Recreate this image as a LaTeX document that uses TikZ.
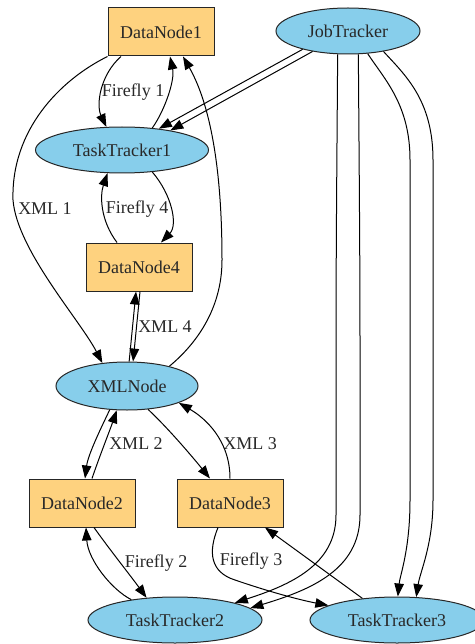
\documentclass[tikz,border=0pt]{standalone}
\usepackage{fontspec}
\setmainfont{Liberation Serif}
\usetikzlibrary{shapes.geometric,arrows.meta,calc}
\definecolor{boxfill}{RGB}{254,210,127}
\definecolor{ellfill}{RGB}{135,206,235}
\definecolor{txt}{RGB}{40,40,40}
\begin{document}
\begin{tikzpicture}[x=1pt,y=-1pt,
 every node/.style={font=\fontsize{18}{21}\selectfont, text=txt},
 dnode/.style={rectangle, draw=black!85, line width=1pt, fill=boxfill, minimum width=106pt, minimum height=48pt, inner sep=0pt},
 tnode/.style={ellipse, draw=black!85, line width=1pt, fill=ellfill, minimum width=174pt, minimum height=46pt, inner sep=0pt},
 conn/.style={draw=black, line width=1pt, -{Triangle[length=13pt,width=9.5pt]}},
 lbl/.style={inner sep=1pt}]
\useasboundingbox (0,0) rectangle (474,644);

% nodes
\node[dnode] (DN1) at (161,32) {DataNode1};
\node[tnode, minimum width=144pt] (JT) at (348,31) {JobTracker};
\node[tnode, minimum width=173pt] (TT1) at (122,150) {TaskTracker1};
\node[dnode] (DN4) at (139,267) {DataNode4};
\node[tnode, minimum width=142pt, minimum height=48pt] (XML) at (127,386) {XMLNode};
\node[dnode] (DN2) at (82,503) {DataNode2};
\node[dnode] (DN3) at (230,503) {DataNode3};
\node[tnode] (TT2) at (175,620) {TaskTracker2};
\node[tnode] (TT3) at (397,620) {TaskTracker3};

% labels
\node[lbl] (l1) at (133,92) {Firefly 1};
\node[lbl] (l2) at (45,209) {XML 1};
\node[lbl] (l3) at (137,209) {Firefly 4};
\node[lbl] (l4) at (165,327) {XML 4};
\node[lbl] (l5) at (136,444) {XML 2};
\node[lbl] (l6) at (250,444) {XML 3};
\node[lbl] (l7) at (156,563) {Firefly 2};
\node[lbl] (l8) at (251,561) {Firefly 3};

% DataNode1 <-> TaskTracker1
\draw[conn] ($(DN1.south)+(-40,0)$) .. controls (100,75) and (96,105) .. (TT1.124);
\draw[conn] (TT1.36) .. controls (165,110) and (175,80) .. ($(DN1.south)+(9,0)$);
% XMLNode -> DataNode1
\draw[conn] (XML.25) .. controls (195,345) and (222,310) .. (222,260)
  .. controls (222,150) and (205,95) .. ($(DN1.south)+(22,0)$);
% DataNode1 -> XMLNode (XML 1)
\draw[conn] (DN1.south west) .. controls (60,80) and (11,130) .. (13,200)
  .. controls (17,250) and (80,320) .. (XML.137);
% JobTracker -> TaskTracker1
\draw[conn] (JT.202) -- (TT1.30);
\draw[conn] (JT.210) -- (TT1.22);
% TaskTracker1 <-> DataNode4
\draw[conn] (TT1.324) .. controls (172,195) and (178,225) .. ($(DN4.north)+(22,0)$);
\draw[conn] ($(DN4.north)+(-22,0)$) .. controls (100,220) and (100,195) .. (TT1.238);
% DataNode4 <-> XMLNode
\draw[conn] (XML.85) -- ($(DN4.south)+(-3,0)$);
\draw[conn] ($(DN4.south)+(1,0)$) -- (XML.76);
% XMLNode <-> DataNode2
\draw[conn] (XML.234) .. controls (100,430) and (88,455) .. ($(DN2.north)+(3,0)$);
\draw[conn] ($(DN2.north)+(10,0)$) .. controls (100,455) and (110,430) .. (XML.247);
% XMLNode <-> DataNode3
\draw[conn] (XML.312) .. controls (170,430) and (195,460) .. ($(DN3.north)+(-20,0)$);
\draw[conn] (DN3.north) .. controls (230,440) and (205,418) .. (XML.342);
% DataNode2 <-> TaskTracker2
\draw[conn] (TT2.155) .. controls (112,590) and (88,560) .. ($(DN2.south)+(4,0)$);
\draw[conn] ($(DN2.south)+(12,0)$) .. controls (110,550) and (130,575) .. (TT2.142);
% DataNode3 <-> TaskTracker3
\draw[conn] ($(DN3.south)+(-12,0)$) .. controls (208,552) and (210,572) .. (235,580)
  .. controls (270,592) and (300,600) .. (TT3.168);
\draw[conn] (TT3.148) -- ($(DN3.south)+(35,0)$);
% JobTracker -> TaskTracker2
\draw[conn] (JT.246) .. controls (337,150) and (336,250) .. (336,350) -- (336,515)
  .. controls (336,565) and (290,585) .. (TT2.16);
\draw[conn] (JT.294) .. controls (359,150) and (360,250) .. (360,350) -- (360,515)
  .. controls (360,570) and (310,590) .. (TT2.9);
% JobTracker -> TaskTracker3
\draw[conn] (JT.311) .. controls (385,80) and (410,105) .. (410,160) -- (410,500)
  .. controls (410,550) and (400,575) .. (TT3.88);
\draw[conn] (JT.330) .. controls (405,75) and (433,100) .. (433,160) -- (433,500)
  .. controls (433,545) and (420,572) .. (TT3.50);
\end{tikzpicture}
\end{document}
